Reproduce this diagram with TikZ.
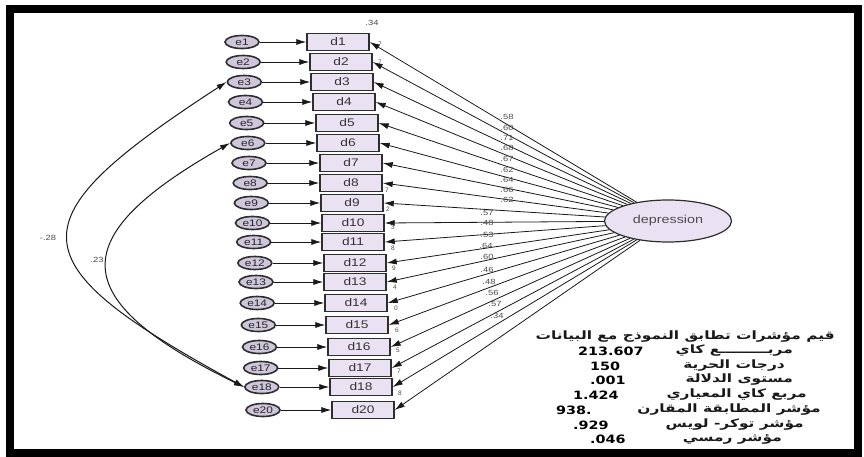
\documentclass[tikz,border=0pt]{standalone}
\usepackage{fontspec}
\usepackage{graphicx}
\setmainfont{Liberation Sans}
\newfontfamily\arabicfont[Script=Arabic]{DejaVu Sans}
\newfontfamily\numfont{DejaVu Sans}
\TeXXeTstate=1
\usetikzlibrary{arrows.meta,shapes.geometric}
\definecolor{boxfill}{HTML}{EAE2F3}
\definecolor{efill}{HTML}{CFC6DB}
\definecolor{edge}{HTML}{2E2E2E}
\newcommand{\mywide}[1]{\scalebox{1.25}[1]{#1}}
\newcommand{\arwide}[1]{\scalebox{1.34}[1]{#1}}
\tikzset{
  dbox/.style={rectangle, draw=edge, line width=1.4pt, fill=boxfill, minimum width=62pt, minimum height=17pt, inner sep=0pt, text=black!80, font=\fontsize{11}{11}\selectfont},
  ebox/.style={ellipse, draw=edge, line width=1.6pt, fill=efill, minimum width=34pt, minimum height=13pt, inner sep=0pt, text=black!85, font=\fontsize{9.5}{9.5}\selectfont},
  depbox/.style={ellipse, draw=edge, line width=1.2pt, fill=boxfill, minimum width=127pt, minimum height=42pt, inner sep=0pt, text=black!70, font=\fontsize{11.5}{11.5}\selectfont},
  arr/.style={draw=black!90, line width=0.8pt, -{Latex[length=10pt,width=6pt]}},
  covarr/.style={draw=black!90, line width=1pt, {Latex[length=10pt,width=6pt]}-{Latex[length=10pt,width=6pt]}},
  lbl/.style={inner sep=0pt, text=black!70, font=\fontsize{7.5}{7.5}\selectfont},
  num/.style={inner sep=0pt, anchor=west, font=\numfont\bfseries\fontsize{11.5}{11.5}\selectfont},
  arab/.style={inner sep=0pt, anchor=east, text=black!90, font=\arabicfont\bfseries\fontsize{11.5}{11.5}\selectfont}
}
\begin{document}
\begin{tikzpicture}[x=1pt,y=-1pt]
\useasboundingbox (0,0) rectangle (864,457);
\fill[white] (0,0) rectangle (864,457);
\draw[line width=8pt] (10,9) rectangle (858,453);

\node[depbox] (dep) at (668,221) {\mywide{depression}};

\foreach \n/\y/\lx [count=\k from 0] in {1/42/307, 2/62/310, 3/82/311, 4/102/313, 5/123/316, 6/143/317, 7/163/320, 8/183/320, 9/203/321, 10/223/322, 11/242/322, 12/263/324, 13/282/324, 14/303/325, 15/325/326, 16/347/328, 17/368/329, 18/387/330, 20/410/332}{
  \node[dbox] (d\n) at (\lx+31,\y) {\mywide{d\n}};
  \node[ebox] (e\n) at ({242+21*\k/18},\y) {\mywide{e\n}};
  \draw[arr] (e\n) -- (d\n);
  \draw[arr] (dep) -- (d\n.east);
}

% covariances
\draw[covarr] (e3.west) .. controls (13,221) and (13,261) .. (e18.west);
\draw[covarr] (e6.west) .. controls (64,237) and (64,299) .. (e18.west);
\node[lbl] (c1) at (48,238) {\mywide{-.28}};
\node[lbl] (c2) at (97,260) {\mywide{.23}};

% loadings
\foreach \t/\x/\y [count=\i] in {.58/507/117, .60/507/128, .71/507/138, .68/507/148, .67/507/159, .62/507/170, .64/507/180, .66/507/190, .62/507/200, .57/487/213, .48/487/223, .53/487/235, .64/486/246, .60/487/257, .46/487/270, .48/489/282, .56/492/293, .57/495/304, .34/497/316}{
  \node[lbl] (w\i) at (\x,\y) {\mywide{\t}};
}

% squared multiple correlations (partly hidden)
\node[lbl] (r1) at (372,23) {\mywide{.34}};
\foreach \t/\x/\y [count=\i] in {7/380/44, 7/380/62, 7/387/190, 2/388/209, 3/393/227, 8/393/248, 9/394/268, 4/395/287, 0/396/308, 6/397/330, 5/398/350, 7/399/371, 8/400/393}{
  \node[lbl, font=\fontsize{6.5}{6.5}\selectfont] (s\i) at (\x,\y) {\t};
}

% fit indices
\node[arab] (a1) at (835,337) {\arwide{\beginR قيم مؤشرات تطابق النموذج مع البيانات\endR}};
\node[arab] (a2) at (793,351) {\arwide{\beginR مربـــــــــع كاي\endR}};
\node[arab] (a3) at (785,366) {\arwide{\beginR درجات الحرية\endR}};
\node[arab] (a4) at (793,380) {\arwide{\beginR مستوى الدلالة\endR}};
\node[arab] (a5) at (807,395) {\arwide{\beginR مربع كاي المعياري\endR}};
\node[arab] (a6) at (821,410) {\arwide{\beginR مؤشر المطابقة المقارن\endR}};
\node[arab] (a7) at (804,425) {\arwide{\beginR مؤشر توكر- لويس\endR}};
\node[arab] (a8) at (782,439) {\arwide{\beginR مؤشر رمسي\endR}};
\node[num] (n2) at (578,351) {\mywide{213.607}};
\node[num] (n3) at (590,366) {\mywide{150}};
\node[num] (n4) at (590,380) {\mywide{.001}};
\node[num] (n5) at (573,395) {\mywide{1.424}};
\node[num] (n6) at (556,410) {\mywide{938.}};
\node[num] (n7) at (573,425) {\mywide{.929}};
\node[num] (n8) at (590,439) {\mywide{.046}};
\end{tikzpicture}
\end{document}
